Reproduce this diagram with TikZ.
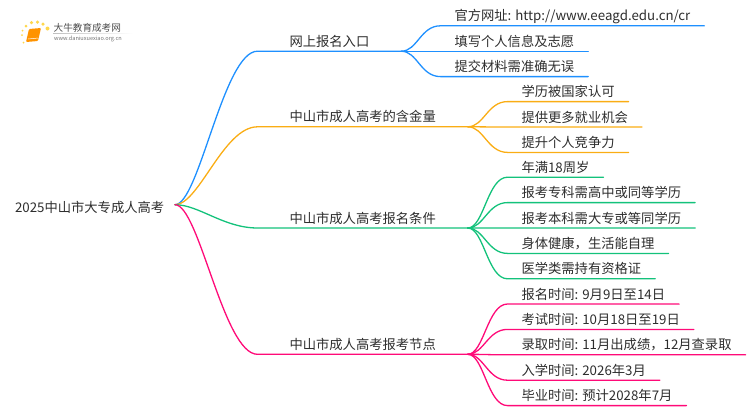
\documentclass[tikz,border=0pt]{standalone}
\usepackage{xcolor}
\usepackage{fontspec}
\setmainfont{Noto Sans CJK SC}
\usetikzlibrary{positioning}
\definecolor{lineblue}{RGB}{30,144,255}
\definecolor{lineorange}{RGB}{250,173,20}
\definecolor{linegreen}{RGB}{19,194,123}
\definecolor{linepink}{RGB}{255,10,120}
\definecolor{inktext}{RGB}{45,45,45}
\tikzset{
  txt/.style = {font=\fontsize{13.3}{16}\selectfont, text=inktext, outer sep=0pt, inner ysep=0pt, text height=20.4pt, text depth=5pt},
  rootnode/.style = {txt, inner xsep=0pt, anchor=west},
  branch/.style = {txt, inner xsep=32pt, anchor=south west},
  leaf/.style = {txt, inner xsep=14pt, anchor=south west},
  nextleaf/.style = {txt, inner xsep=14pt, below=0pt of #1.south west, anchor=north west},
  wire/.style = {line width=1.3pt, line cap=round},
  dot/.style = {circle, fill=orange!45!yellow!70, inner sep=0pt, minimum size=#1},
}
\begin{document}
\begin{tikzpicture}[x=1pt, y=-1pt]
  \useasboundingbox (0,0) rectangle (750,410);

  % logo
  \fill[orange!85!yellow, rounded corners=1pt] (29,29) -- (41,28) -- (38,41) -- (26,42) -- cycle;
  \draw[white, line width=0.5pt] (28,39) -- (38.5,38);
  \foreach \px/\py/\ps in {22/35/2pt, 22.5/30.5/2pt, 26/26/3pt, 31.5/22.5/3.5pt, 37.5/22/3.5pt, 43/24/3.5pt, 47.5/28.5/4pt, 23.5/42.5/2pt}
    \node[dot=\ps] (spark\px) at (\px,\py) {};
  \node[font=\fontsize{9.6}{11}\selectfont, text=black!70, inner sep=0pt, anchor=west] (logotitle) at (53.5,27.5) {大牛教育成考网};
  \node[font=\fontsize{5.6}{7}\selectfont, text=black!55, inner sep=0pt, anchor=west] (logourl) at (54,39) {www.daniuxuexiao.org.cn};
  \shade[left color=black!25, right color=white] (53,33) rectangle (133,33.6);

  % nodes
  \node[rootnode] (root) at (15,205) {2025中山市大专成人高考};
  \coordinate (hub) at (175,204.7);

  \node[branch] (net) at (257.5,51.2) {网上报名入口};
  \node[branch] (gold) at (257.5,126.8) {中山市成人高考的含金量};
  \node[branch] (cond) at (257.5,228) {中山市成人高考报名条件};
  \node[branch] (date) at (257.5,354.3) {中山市成人高考报考节点};

  \node[leaf] (net1) at (440.5,25.8) {官方网址: http://www.eeagd.edu.cn/cr};
  \node[nextleaf=net1] (net2) {填写个人信息及志愿};
  \node[nextleaf=net2] (net3) {提交材料需准确无误};

  \node[leaf] (gold1) at (507.5,101.6) {学历被国家认可};
  \node[nextleaf=gold1] (gold2) {提供更多就业机会};
  \node[nextleaf=gold2] (gold3) {提升个人竞争力};

  \node[leaf] (cond1) at (507.5,177.2) {年满18周岁};
  \node[nextleaf=cond1] (cond2) {报考专科需高中或同等学历};
  \node[nextleaf=cond2] (cond3) {报考本科需大专或等同学历};
  \node[nextleaf=cond3] (cond4) {身体健康，生活能自理};
  \node[nextleaf=cond4] (cond5) {医学类需持有资格证};

  \node[leaf] (date1) at (507.5,304) {报名时间: 9月9日至14日};
  \node[nextleaf=date1] (date2) {考试时间: 10月18日至19日};
  \node[nextleaf=date2] (date3) {录取时间: 11月出成绩，12月查录取};
  \node[nextleaf=date3] (date4) {入学时间: 2026年3月};
  \node[nextleaf=date4] (date5) {毕业时间: 预计2028年7月};

  % connectors
  \foreach \b/\c in {net/lineblue, gold/lineorange, cond/linegreen, date/linepink}
    \draw[wire, \c] (hub) .. controls +(24,0) and +(-34,0) .. (\b.south west) -- (\b.south east);

  \foreach \n in {net1,net2,net3}
    \draw[wire, lineblue] (net.south east) .. controls +(16,0) and +(-20,0) .. (\n.south west) -- (\n.south east);
  \foreach \n in {gold1,gold2,gold3}
    \draw[wire, lineorange] (gold.south east) .. controls +(16,0) and +(-20,0) .. (\n.south west) -- (\n.south east);
  \foreach \n in {cond1,cond2,cond3,cond4,cond5}
    \draw[wire, linegreen] (cond.south east) .. controls +(16,0) and +(-20,0) .. (\n.south west) -- (\n.south east);
  \foreach \n in {date1,date2,date3,date4,date5}
    \draw[wire, linepink] (date.south east) .. controls +(16,0) and +(-20,0) .. (\n.south west) -- (\n.south east);
\end{tikzpicture}
\end{document}
